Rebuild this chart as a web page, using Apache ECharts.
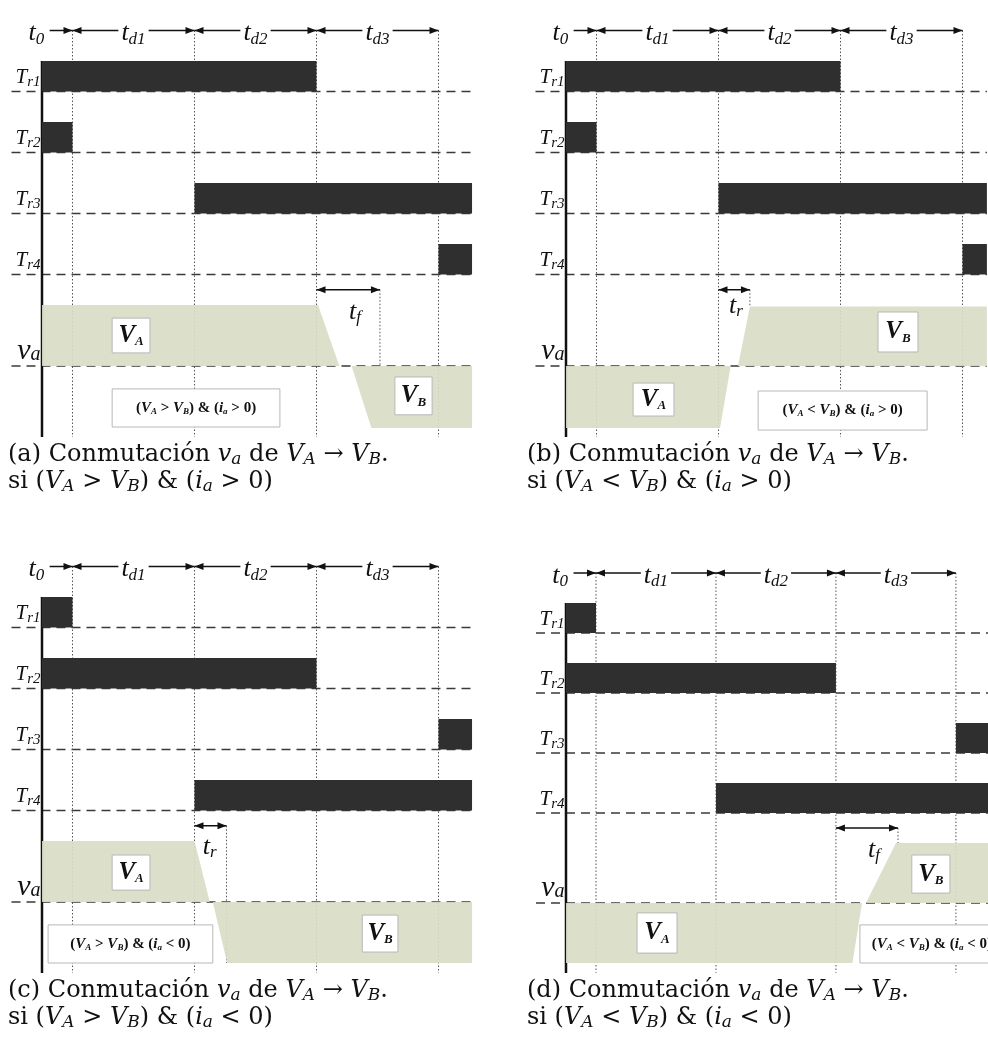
<!DOCTYPE html>
<html>
<head>
<meta charset="utf-8">
<script src="https://cdn.jsdelivr.net/npm/echarts@6/dist/echarts.min.js"></script>
<style>
html, body { margin: 0; padding: 0; background: #fff; }
#main { width: 988px; height: 1046px; }
</style>
</head>
<body>
<div id="main"></div>
<script type="text/javascript">
// switching instants: end of t0, td1, td2, td3
var edges = [1, 5, 9, 13];
var spanNames = ['d1', 'd2', 'd3'];
var rowNames = ['r1', 'r2', 'r3', 'r4'];
var rowLevels = [9, 7, 5, 3];

// conduction intervals [start, end] for Tr1..Tr4
var onA = [[0, 9], [0, 1], [5, 14.1], [13, 14.1]];
var onB = [[0, 9], [0, 1], [5, 13.8], [13, 13.8]];
var onC = [[0, 1], [0, 9], [13, 14.1], [5, 14.1]];
var onD = [[0, 1], [0, 9], [13, 14.07], [5, 14.07]];

// va shaded levels, polygon vertices [t, level]
var vaA = [[0, 0], [0, 2], [9.05, 2], [9.75, 0]];
var vbA = [[10.15, 0], [10.8, -2.03], [14.1, -2.03], [14.1, 0]];
var vaB = [[0, 0], [5.4, 0], [5.05, -2.03], [0, -2.03]];
var vbB = [[5.64, 0], [6.03, 1.95], [13.8, 1.95], [13.8, 0]];
var vaC = [[0, 0], [0, 2], [5.0, 2], [5.5, 0]];
var vbC = [[5.6, 0], [6.07, -2.0], [14.1, -2.0], [14.1, 0]];
var vaD = [[0, 0], [9.87, 0], [9.55, -2.0], [0, -2.0]];
var vbD = [[10.0, 0], [11.0, 2.0], [14.07, 2.0], [14.07, 0]];

// transition time arrows [from, to]
var transA = [9, 11.08];
var transB = [5, 6.03];
var transC = [5, 6.05];
var transD = [9, 11.07];

var SERIF = "'Liberation Serif', 'Times New Roman', serif";
var CAPFONT = "'DejaVu Serif', serif";
var BAND = '#d9dcc6';
var BAR = '#2f2f2f';

var rich = {
  tm: {fontFamily: SERIF, fontStyle: 'italic', fontSize: 26, lineHeight: 28, fill: '#111'},
  ts: {fontFamily: SERIF, fontStyle: 'italic', fontSize: 17, lineHeight: 13, verticalAlign: 'bottom', fill: '#111'},
  rm: {fontFamily: SERIF, fontStyle: 'italic', fontSize: 21, lineHeight: 24, fill: '#111'},
  rs: {fontFamily: SERIF, fontStyle: 'italic', fontSize: 15, lineHeight: 12, verticalAlign: 'bottom', fill: '#111'},
  vm: {fontFamily: SERIF, fontStyle: 'italic', fontSize: 30, lineHeight: 28, fill: '#111'},
  vs: {fontFamily: SERIF, fontStyle: 'italic', fontSize: 20, lineHeight: 13, verticalAlign: 'bottom', fill: '#111'},
  bm: {fontFamily: SERIF, fontStyle: 'italic', fontWeight: 'bold', fontSize: 25, lineHeight: 26, fill: '#111'},
  bs: {fontFamily: SERIF, fontStyle: 'italic', fontWeight: 'bold', fontSize: 13, lineHeight: 11, verticalAlign: 'bottom', fill: '#111'},
  c: {fontFamily: SERIF, fontWeight: 'bold', fontSize: 15, lineHeight: 16, fill: '#111'},
  ci: {fontFamily: SERIF, fontStyle: 'italic', fontWeight: 'bold', fontSize: 15, lineHeight: 16, fill: '#111'},
  cs: {fontFamily: SERIF, fontStyle: 'italic', fontWeight: 'bold', fontSize: 9, lineHeight: 8, verticalAlign: 'bottom', fill: '#111'}
};

var panels = [
  {tag: 'a', ax: 42, base: 366, unit: 30.5, xMax: 14.1, on: onA, bands: [vaA, vbA], trans: transA, tn: 'f', drop: 0,
   tl: [10.26, 1.77], boxA: [2.3, 3.54, 0.43, 1.57], boxB: [11.57, 12.79, -1.6, -0.36], cond: [2.3, 7.8, -2.0, -0.75],
   rel: '>', ia: '>', capLeft: 8, capTop: 441},
  {tag: 'b', ax: 566, base: 366, unit: 30.5, xMax: 13.8, on: onB, bands: [vaB, vbB], trans: transB, tn: 'r', drop: 1.95,
   tl: [5.57, 1.97], boxA: [2.2, 3.54, -1.64, -0.56], boxB: [10.23, 11.54, 0.46, 1.77], cond: [6.3, 11.84, -2.1, -0.82],
   rel: '<', ia: '>', capLeft: 527, capTop: 441},
  {tag: 'c', ax: 42, base: 902, unit: 30.5, xMax: 14.1, on: onC, bands: [vaC, vbC], trans: transC, tn: 'r', drop: -2.0,
   tl: [5.5, 1.8], boxA: [2.3, 3.54, 0.39, 1.54], boxB: [10.5, 11.67, -1.64, -0.43], cond: [0.2, 5.6, -2.0, -0.75],
   rel: '>', ia: '<', capLeft: 8, capTop: 977},
  {tag: 'd', ax: 566, base: 903, unit: 30, xMax: 14.07, on: onD, bands: [vaD, vbD], trans: transD, tn: 'f', drop: 2.0,
   tl: [10.27, 1.77], boxA: [2.37, 3.7, -1.67, -0.33], boxB: [11.53, 12.8, 0.33, 1.6], cond: [9.8, 14.6, -2.0, -0.73],
   rel: '<', ia: '<', capLeft: 527, capTop: 977}
];

function gridOf(p) {
  return {left: p.ax - p.unit, top: p.base - 12 * p.unit, width: (p.xMax + 1) * p.unit, height: 14.33 * p.unit};
}

function captionOf(p) {
  return {
    left: p.capLeft, top: p.capTop, padding: 0,
    text: '(' + p.tag + ') Conmutación {i|v}{s|a} de {i|V}{s|A} → {i|V}{s|B}.\n' +
          'si ({i|V}{s|A} ' + p.rel + ' {i|V}{s|B}) & ({i|i}{s|a} ' + p.ia + ' 0)',
    textStyle: {
      fontFamily: CAPFONT, fontSize: 24, fontWeight: 'normal', color: '#111', lineHeight: 27,
      rich: {
        i: {fontFamily: CAPFONT, fontStyle: 'italic', fontSize: 24, lineHeight: 27, color: '#111'},
        s: {fontFamily: CAPFONT, fontStyle: 'italic', fontSize: 17, lineHeight: 13, verticalAlign: 'bottom', color: '#111'}
      }
    }
  };
}

function head(x, y, dir) {
  return {type: 'polygon', shape: {points: [[x, y], [x - dir * 9, y - 3.5], [x - dir * 9, y + 3.5]]}, style: {fill: '#111'}};
}

function panelSeries(p, gi) {
  var out = [];
  function cs(data, render) {
    out.push({type: 'custom', xAxisIndex: gi, yAxisIndex: gi, data: data, renderItem: render, silent: true, animation: false});
  }

  // guides: dashed row baselines, dotted instants, axis
  var guides = [];
  rowLevels.concat([0]).forEach(function (l) { guides.push([-1, l, p.xMax, l, 0]); });
  edges.forEach(function (e) { guides.push([e, 11, e, -2.33, 1]); });
  guides.push([p.trans[1], 2.5, p.trans[1], p.drop, 1]);
  guides.push([0, 10, 0, -2.33, 2]);
  cs(guides, function (params, api) {
    var a = api.coord([api.value(0), api.value(1)]);
    var b = api.coord([api.value(2), api.value(3)]);
    var k = api.value(4);
    var st = k === 0 ? {stroke: '#3a3a3a', lineWidth: 1.4, lineDash: [9, 6]}
           : k === 1 ? {stroke: '#555', lineWidth: 1, lineDash: [1.5, 2]}
           : {stroke: '#111', lineWidth: 2.5};
    return {type: 'line', shape: {x1: a[0], y1: a[1], x2: b[0], y2: b[1]}, style: st};
  });

  // va bands
  cs(p.bands.map(function (b) { return b[0]; }), function (params, api) {
    var pts = p.bands[params.dataIndex].map(function (v) { return api.coord(v); });
    return {type: 'polygon', shape: {points: pts}, style: {fill: BAND, opacity: 0.92}};
  });

  // conduction bars
  cs(p.on.map(function (s, i) { return [s[0], s[1], rowLevels[i]]; }), function (params, api) {
    var a = api.coord([api.value(0), api.value(2) + 1]);
    var b = api.coord([api.value(1), api.value(2)]);
    return {type: 'rect', shape: {x: a[0], y: a[1], width: b[0] - a[0], height: b[1] - a[1]}, style: {fill: BAR}};
  });

  // arrows
  var arrows = [[0.25, edges[0], 11, 0, 1]];
  for (var i = 1; i < edges.length; i++) arrows.push([edges[i - 1], edges[i], 11, 1, 1]);
  arrows.push([p.trans[0], p.trans[1], 2.5, 1, 1]);
  cs(arrows, function (params, api) {
    var a = api.coord([api.value(0), api.value(2)]);
    var b = api.coord([api.value(1), api.value(2)]);
    var ch = [{type: 'line', shape: {x1: a[0], y1: a[1], x2: b[0], y2: b[1]}, style: {stroke: '#111', lineWidth: 1.5}}];
    if (api.value(3)) ch.push(head(a[0], a[1], -1));
    if (api.value(4)) ch.push(head(b[0], b[1], 1));
    return {type: 'group', children: ch};
  });

  // boxes
  var boxes = [p.boxA, p.boxB, p.cond];
  var boxText = ['{bm|V}{bs|A}', '{bm|V}{bs|B}',
    '{c|(}{ci|V}{cs|A}{c| ' + p.rel + ' }{ci|V}{cs|B}{c|) & (}{ci|i}{cs|a}{c| ' + p.ia + ' 0)}'];
  cs(boxes, function (params, api) {
    var a = api.coord([api.value(0), api.value(3)]);
    var b = api.coord([api.value(1), api.value(2)]);
    return {type: 'group', children: [
      {type: 'rect', shape: {x: a[0], y: a[1], width: b[0] - a[0], height: b[1] - a[1]},
       style: {fill: '#fff', stroke: '#b8b8b8', lineWidth: 1}},
      {type: 'text', x: (a[0] + b[0]) / 2, y: (a[1] + b[1]) / 2,
       style: {text: boxText[params.dataIndex], rich: rich, align: 'center', verticalAlign: 'middle'}}
    ]};
  });

  // text labels
  var labels = [[0.07, 10.9], [3, 10.9], [7, 10.9], [11, 10.9]];
  var labelText = ['{tm|t}{ts|0}'];
  var labelAlign = ['right', 'center', 'center', 'center'];
  spanNames.forEach(function (s) { labelText.push('{tm|t}{ts|' + s + '}'); });
  rowNames.forEach(function (r, i) {
    labels.push([-0.05, rowLevels[i] + 0.45]); labelText.push('{rm|T}{rs|' + r + '}'); labelAlign.push('right');
  });
  labels.push([-0.05, 0.5]); labelText.push('{vm|v}{vs|a}'); labelAlign.push('right');
  labels.push(p.tl); labelText.push('{tm|t}{ts|' + p.tn + '}'); labelAlign.push('center');
  cs(labels, function (params, api) {
    var c = api.coord([api.value(0), api.value(1)]);
    var k = params.dataIndex;
    var st = {text: labelText[k], rich: rich, align: labelAlign[k], verticalAlign: 'middle'};
    if (k >= 1 && k <= 3) { st.backgroundColor = '#fff'; st.padding = [0, 3]; }
    return {type: 'text', x: c[0], y: c[1], style: st};
  });
  return out;
}

var chart = echarts.init(document.getElementById('main'));
var option = {
  animation: false,
  backgroundColor: '#fff',
  title: panels.map(captionOf),
  grid: panels.map(gridOf),
  xAxis: panels.map(function (p, i) { return {type: 'value', gridIndex: i, min: -1, max: p.xMax, show: false}; }),
  yAxis: panels.map(function (p, i) { return {type: 'value', gridIndex: i, min: -2.33, max: 12, show: false}; }),
  series: [].concat.apply([], panels.map(panelSeries))
};
chart.setOption(option);
</script>
</body>
</html>
